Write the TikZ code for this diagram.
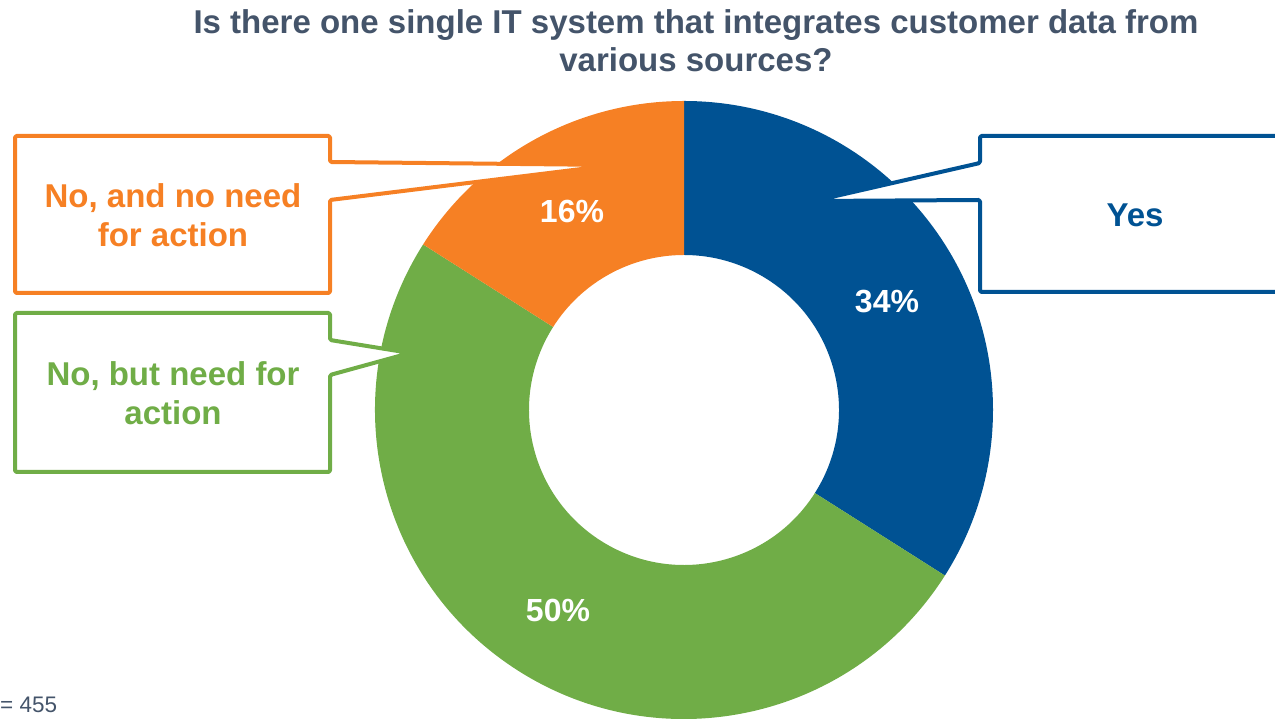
\documentclass[tikz,border=0pt]{standalone}
\usepackage{fontspec}
\setmainfont{Liberation Sans}
\definecolor{cblue}{RGB}{0,82,147}
\definecolor{corange}{RGB}{246,128,36}
\definecolor{cgreen}{RGB}{112,173,71}
\definecolor{ctitle}{RGB}{68,84,106}
\begin{document}
\begin{tikzpicture}[x=1pt,y=1pt,
  callout/.style={fill=white, line width=4pt, rounded corners=1.5pt, line join=round},
  lbl/.style={font=\bfseries\fontsize{33}{39}\selectfont, align=center, inner sep=0pt},
  pct/.style={font=\bfseries\fontsize{32}{38}\selectfont, text=white, inner sep=0pt},
  ttl/.style={font=\bfseries\fontsize{33}{38}\selectfont, text=ctitle, align=center, inner sep=0pt},
]
\clip (0,0) rectangle (1275,719);
\coordinate (c) at (684,309);
% donut segments
\fill[cblue] ([shift={(c)}]90:309) arc[start angle=90,end angle=-32.4,radius=309pt]
  -- ([shift={(c)}]-32.4:155) arc[start angle=-32.4,end angle=90,radius=155pt] -- cycle;
\fill[cgreen] ([shift={(c)}]-32.4:309) arc[start angle=-32.4,end angle=-212.4,radius=309pt]
  -- ([shift={(c)}]-212.4:155) arc[start angle=-212.4,end angle=-32.4,radius=155pt] -- cycle;
\fill[corange] ([shift={(c)}]-212.4:309) arc[start angle=-212.4,end angle=-270,radius=309pt]
  -- ([shift={(c)}]-270:155) arc[start angle=-270,end angle=-212.4,radius=155pt] -- cycle;
% callouts
\draw[callout, draw=cblue] (980,583) -- (1290,583) -- (1290,427) -- (980,427) -- (980,519) -- (814,518) -- (980,556) -- cycle;
\draw[callout, draw=corange] (15,583) -- (330,583) -- (330,557) -- (614,554) -- (330,519) -- (330,426) -- (15,426) -- cycle;
\draw[callout, draw=cgreen] (15,406) -- (330,406) -- (330,379) -- (410,366) -- (330,344) -- (330,247) -- (15,247) -- cycle;
% labels
\node[lbl, text=cblue] (yes) at (1135,504) {Yes};
\node[lbl, text=corange] (nono) at (173,504) {No, and no need\\for action};
\node[lbl, text=cgreen] (nobut) at (173,326) {No, but need for\\action};
% percentages
\node[pct] (p16) at (572,508) {16\%};
\node[pct] (p34) at (887,417) {34\%};
\node[pct] (p50) at (558,109) {50\%};
% title
\node[ttl] (title) at (696,678) {Is there one single IT system that integrates customer data from\\various sources?};
% sample size
\node[anchor=base west, inner sep=0pt, text=ctitle, font=\fontsize{22.5}{26}\selectfont] (n) at (0,6) {= 455};
\end{tikzpicture}
\end{document}
